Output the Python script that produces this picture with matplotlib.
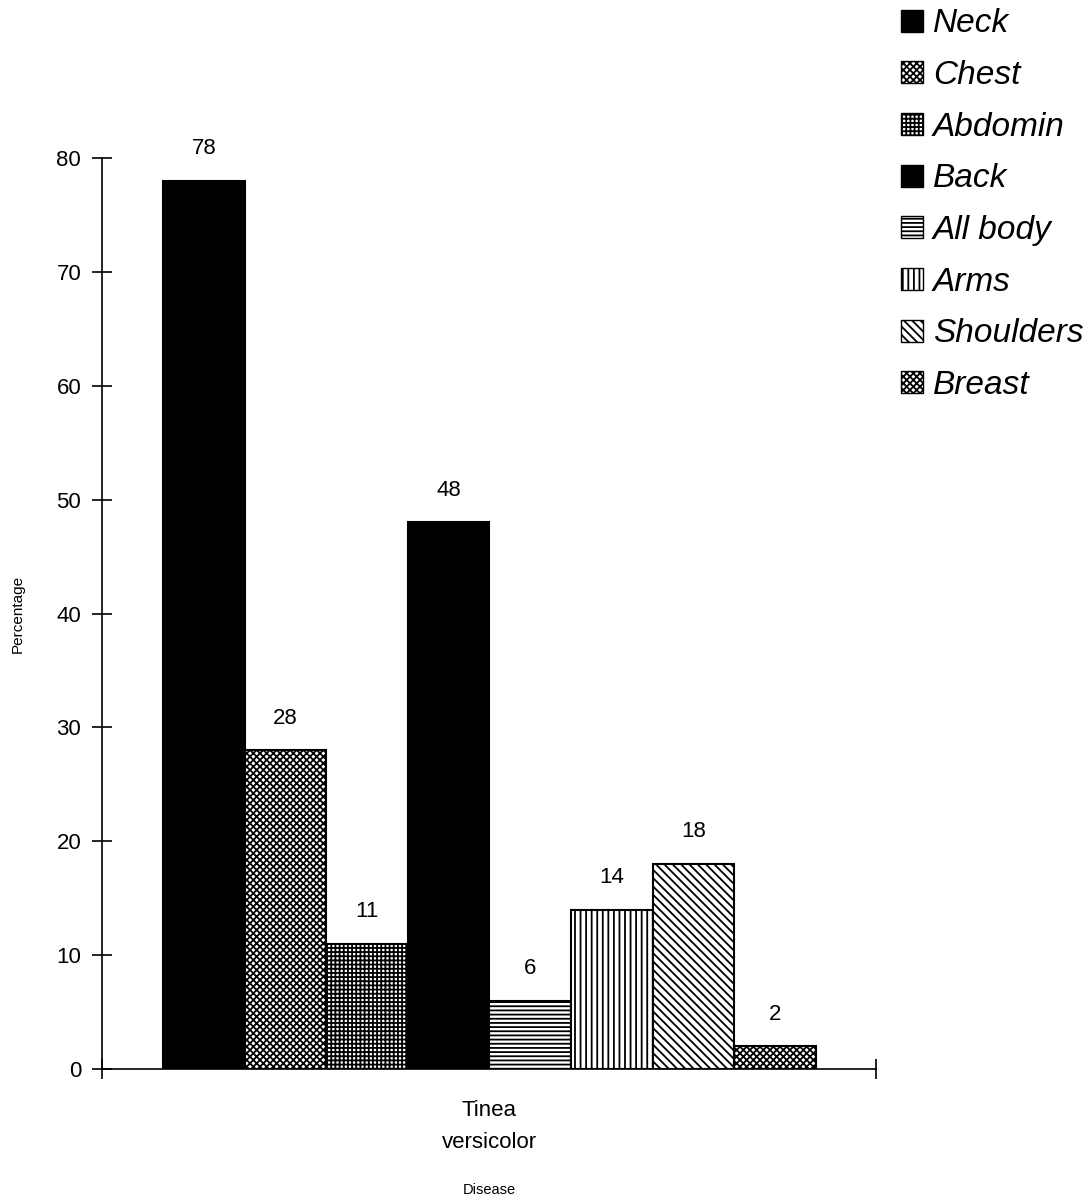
import matplotlib
matplotlib.use("Agg")
import matplotlib.pyplot as plt
from matplotlib.patches import Patch

categories = ["Neck", "Chest", "Abdomin", "Back", "All body", "Arms", "Shoulders", "Breast"]
values = [78, 28, 11, 48, 6, 14, 18, 2]
group_label = "Tinea\nversicolor"
yticks = [0, 10, 20, 30, 40, 50, 60, 70, 80]

styles = [
    dict(facecolor="black", hatch=None),
    dict(facecolor="white", hatch="xxxxx"),
    dict(facecolor="white", hatch="++++"),
    dict(facecolor="black", hatch=None),
    dict(facecolor="white", hatch="----"),
    dict(facecolor="white", hatch="|||"),
    dict(facecolor="white", hatch="\\\\\\\\"),
    dict(facecolor="white", hatch="xxxxx"),
]

plt.rcParams["font.family"] = ["Liberation Sans", "DejaVu Sans"]
plt.rcParams["hatch.linewidth"] = 1.3

fig = plt.figure(figsize=(10.91, 12.01), dpi=100)
ax = fig.add_axes([0.0935, 0.1099, 0.7095, 0.7585])

xs = list(range(len(values)))
for x, v, st in zip(xs, values, styles):
    ax.bar(x, v, width=1.0, facecolor=st["facecolor"], hatch=st["hatch"],
           edgecolor="black", linewidth=1.5)
    ax.text(x, v + 1.9, str(v), ha="center", va="bottom", fontsize=16)

ax.set_xlim(-1.25, 8.24)
ax.set_ylim(0, 80)
ax.spines["top"].set_visible(False)
ax.spines["right"].set_visible(False)
ax.spines["left"].set_linewidth(1.2)
ax.spines["bottom"].set_linewidth(1.2)
ax.set_yticks(yticks)
ax.set_yticklabels([str(t) for t in yticks], fontsize=16)
ax.tick_params(axis="y", direction="inout", length=14, width=1.2, pad=8)
ax.set_xticks([-1.25, 8.24])
ax.set_xticklabels(["", ""])
ax.tick_params(axis="x", direction="inout", length=14, width=1.2)

ax.text(3.5, -2.7, group_label, ha="center", va="top", fontsize=16, linespacing=1.7)
fig.text(0.4485, 1 - 1190 / 1201, "Disease", ha="center", va="center", fontsize=10.5)
fig.text(0.016, 0.489, "Percentage", rotation=90, ha="center", va="center", fontsize=11)

handles = [Patch(facecolor=st["facecolor"], hatch=st["hatch"], edgecolor="black", linewidth=1.0)
           for st in styles]
leg = fig.legend(handles, categories, loc="upper left", bbox_to_anchor=(0.826, 0.993),
                 frameon=False, borderpad=0.0, borderaxespad=0.0,
                 handlelength=0.65, handleheight=0.65, handletextpad=0.3,
                 labelspacing=0.62,
                 prop={"size": 24, "style": "italic", "family": ["Liberation Sans", "DejaVu Sans"]})

fig.savefig("out.png", dpi=100)
